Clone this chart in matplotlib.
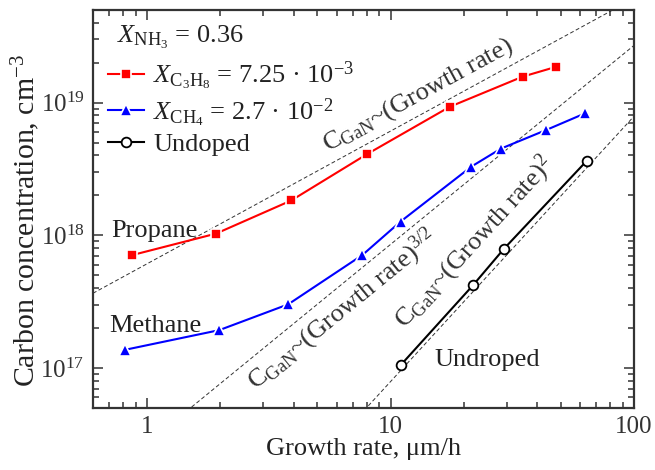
import numpy as np
import matplotlib
matplotlib.use("Agg")
import matplotlib.pyplot as plt
from matplotlib.ticker import FuncFormatter, LogLocator

# data
propane_rate = [0.87, 1.92, 3.91, 7.97, 17.5, 34.9, 47.8]
propane_c = [7.1e17, 1.03e18, 1.83e18, 4.07e18, 9.3e18, 1.57e19, 1.86e19]

methane_rate = [0.81, 1.98, 3.80, 7.66, 11.0, 21.5, 28.4, 43.4, 62.9]
methane_c = [1.37e17, 1.93e17, 3.02e17, 7.1e17, 1.27e18, 3.3e18, 4.5e18, 6.2e18, 8.3e18]

undoped_rate = [11.0, 21.8, 29.2, 64.1]
undoped_c = [1.05e17, 4.2e17, 7.9e17, 3.66e18]

# guide lines C = k * rate^n
guide_n = [1.0, 1.5, 2.0]
guide_k = [6.1e17, 2.7e16, 7.9e14]

plt.rcParams["font.family"] = ["Liberation Serif", "DejaVu Serif"]
plt.rcParams["mathtext.fontset"] = "custom"
plt.rcParams["mathtext.rm"] = "Liberation Serif"
plt.rcParams["mathtext.it"] = "Liberation Serif:italic"
plt.rcParams["mathtext.bf"] = "Liberation Serif:bold"

fig = plt.figure(figsize=(6.55, 4.7), dpi=100)
fig.subplots_adjust(left=0.142, right=0.968, bottom=0.132, top=0.979)
ax = fig.add_subplot(111)
ax.set_xscale("log")
ax.set_yscale("log")
ax.set_xlim(0.6, 100)
ax.set_ylim(5e16, 5e19)

xx = np.logspace(np.log10(0.6), 2, 200)
for n, k in zip(guide_n, guide_k):
    ax.plot(xx, k * xx ** n, ls=(0, (4, 2.5)), color="#333333", lw=0.7, zorder=1)

ax.plot(propane_rate, propane_c, color="#ff0000", lw=1.5, marker="s", ms=7.5,
        mec="white", mew=1.2, label=r"$X_{\mathrm{C_3H_8}}$ = 7.25 · 10$^{-3}$", zorder=3)
ax.plot(methane_rate, methane_c, color="#0000ff", lw=1.5, marker="^", ms=9,
        mec="white", mew=1.2, label=r"$X_{\mathrm{CH_4}}$ = 2.7 · 10$^{-2}$", zorder=3)
ax.plot(undoped_rate, undoped_c, color="black", lw=1.5, marker="o", ms=7,
        mfc="white", mec="black", mew=1.3, label="Undoped", zorder=3)

ax.text(0.044, 0.917, r"$X_{\mathrm{NH_3}}$ = 0.36", transform=ax.transAxes,
        fontsize=19, ha="left", va="baseline", color="#222222")
leg = ax.legend(loc="upper left", bbox_to_anchor=(0.028, 0.875), frameon=False,
                fontsize=19, handlelength=1.35, handletextpad=0.35,
                labelspacing=0.15, borderpad=0, borderaxespad=0)
for t in leg.get_texts():
    t.set_color("#222222")

# annotations along the guide lines
def angle_of(n):
    p1 = ax.transData.transform((1.0, 1e17))
    p2 = ax.transData.transform((10.0, 1e17 * 10 ** n))
    return np.degrees(np.arctan2(p2[1] - p1[1], p2[0] - p1[0]))

ax.text(5.5, 4.3e18, "C$_{\\mathrm{GaN}}$~(Growth rate)", fontsize=19, color="#333333",
        rotation=angle_of(1.0), rotation_mode="anchor", ha="left", va="baseline")
ax.text(2.78, 6.8e16, "C$_{\\mathrm{GaN}}$~(Growth rate)$^{3/2}$", fontsize=19, color="#333333",
        rotation=angle_of(1.5), rotation_mode="anchor", ha="left", va="baseline")
ax.text(11.4, 1.96e17, "C$_{\\mathrm{GaN}}$~(Growth rate)$^{2}$", fontsize=19, color="#333333",
        rotation=angle_of(2.0), rotation_mode="anchor", ha="left", va="baseline")

ax.text(0.711, 9.7e17, "Propane", fontsize=19, color="#222222", ha="left", va="baseline")
ax.text(0.70, 1.86e17, "Methane", fontsize=19, color="#222222", ha="left", va="baseline")
ax.text(15.2, 1.035e17, "Undroped", fontsize=19, color="#222222", ha="left", va="baseline")

ax.xaxis.set_major_formatter(FuncFormatter(lambda v, p: "%g" % v))
ax.yaxis.set_minor_locator(LogLocator(base=10, subs=np.arange(2, 10)))
ax.tick_params(which="both", direction="in", top=True, right=True, width=1.1,
               labelsize=18, colors="#333333")
ax.tick_params(which="major", length=7, pad=6)
ax.tick_params(which="minor", length=4.5)
for s in ax.spines.values():
    s.set_linewidth(1.6)
    s.set_color("#333333")

ax.set_xlabel("Growth rate, μm/h", fontsize=19, color="#222222", labelpad=0)
ax.set_ylabel("Carbon concentration, cm$^{-3}$", fontsize=21.5, color="#222222")
ax.yaxis.set_label_coords(-0.094, 0.47)

fig.savefig("out.png", dpi=100)
